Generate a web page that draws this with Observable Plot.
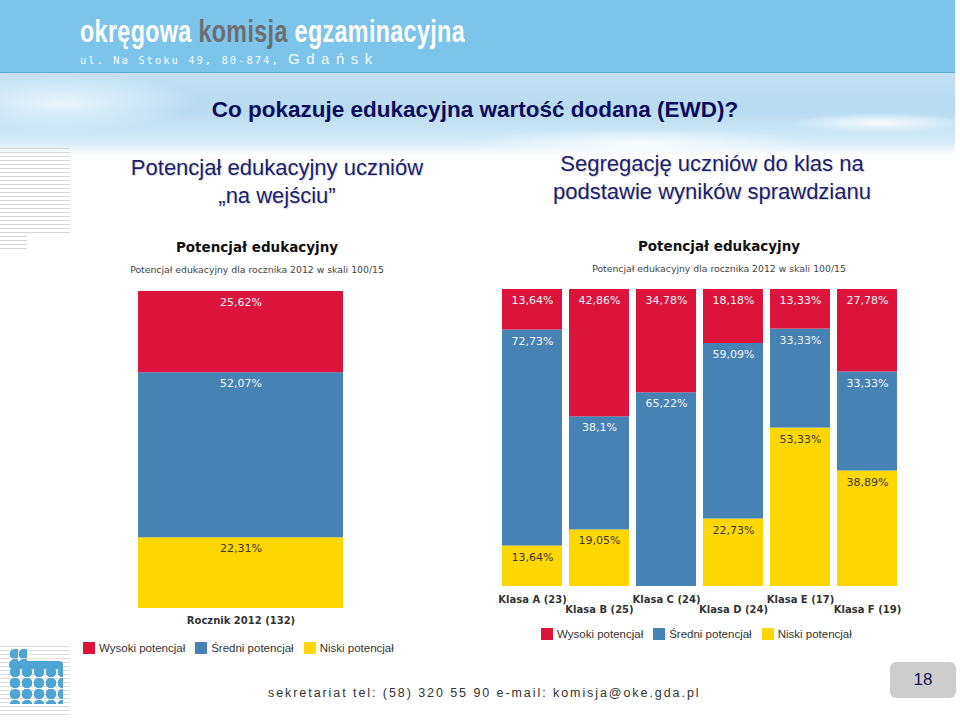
<!DOCTYPE html>
<html><head><meta charset="utf-8">
<script src="https://cdn.jsdelivr.net/npm/d3@7"></script>
<script src="https://cdn.jsdelivr.net/npm/@observablehq/plot@0.6"></script>
<style>
html,body{margin:0;padding:0;background:#fff;}
#slide{position:relative;width:960px;height:720px;overflow:hidden;font-family:"Liberation Sans",Arial,sans-serif;background:#fff;}
.abs{position:absolute;white-space:nowrap;}
#band{left:0;top:0;width:955px;height:72px;background:#7cc4ea;border-bottom:1px solid #5ea9d5;}
#texture{left:0;top:73px;width:955px;height:82px;
 background:
  radial-gradient(ellipse 180px 14px at 640px 70px, rgba(255,255,255,0.85), rgba(255,255,255,0)),
  radial-gradient(ellipse 90px 10px at 880px 50px, rgba(255,255,255,0.9), rgba(255,255,255,0)),
  radial-gradient(ellipse 140px 30px at 60px 30px, rgba(255,255,255,0.7), rgba(255,255,255,0)),
  linear-gradient(180deg,#c3e1f3 0%,#b7dbf0 45%,#d6ebf7 85%,#ffffff 100%);}
#brand{left:80px;top:16px;font-weight:bold;font-size:32px;color:#fff;transform-origin:0 0;line-height:30px;letter-spacing:0.5px;}
#brand .g{color:#6e6e72;}
#addr{left:80px;top:51px;color:#f4faff;line-height:16px;}
#addr .a{font-family:"DejaVu Sans Mono",monospace;font-size:10.5px;letter-spacing:2px;}
#addr .b{font-size:15px;letter-spacing:6.5px;}
#title{left:0;width:950px;text-align:center;top:97px;font-size:22.5px;font-weight:bold;color:#0c0c5a;line-height:26px;}
.sub{font-size:22px;color:#1b1f6e;line-height:28px;text-align:center;text-shadow:1px 1px 1px rgba(0,0,40,0.18);}
#subL{left:97px;width:360px;top:154px;}
#subR{left:512px;width:400px;top:150px;}
.ct{font-family:"DejaVu Sans",Verdana,sans-serif;font-weight:bold;font-size:13.5px;color:#111;text-align:center;line-height:16px;}
.cs{font-family:"DejaVu Sans",Verdana,sans-serif;font-size:9.3px;color:#444;text-align:center;line-height:12px;}
#stripes1{left:0;top:148px;width:70px;height:88px;background:repeating-linear-gradient(180deg,#d8d8d8 0 1px,rgba(255,255,255,0) 1px 4px);}
#stripes2{left:0;top:236px;width:27px;height:14px;background:repeating-linear-gradient(180deg,#d8d8d8 0 1px,rgba(255,255,255,0) 1px 4px);}
#stripes3{left:0;top:646px;width:70px;height:70px;background:repeating-linear-gradient(180deg,#dcdcdc 0 1px,rgba(255,255,255,0) 1px 4px);}
#dots1{left:9px;top:666px;width:54px;height:38px;background:radial-gradient(circle at 6px 6px,#4ea5d4 0 5px,rgba(0,0,0,0) 5.6px);background-size:12px 11px;}
#dots2{left:9px;top:648px;width:18px;height:20px;background:radial-gradient(circle at 6px 6px,#4ea5d4 0 5px,rgba(0,0,0,0) 5.6px);background-size:9px 10px;}
#dots3{left:9px;top:661px;width:54px;height:8px;background:#4ea5d4;border-radius:4px;}
#footer{left:268px;top:685px;font-size:12.5px;color:#333;line-height:16px;}
#page{left:890px;top:662px;width:66px;height:36px;background:#cdcdcd;border-radius:6px;text-align:center;line-height:36px;font-size:17px;color:#141450;}
.lg-swatches{min-height:0 !important;margin:0 !important;font:11.5px "Liberation Sans",Arial,sans-serif !important;color:#333 !important;}
.lg-swatch{margin-right:10px !important;}
.lg-swatch > svg{margin-right:4px !important;}
</style></head><body>
<div id="slide">
 <div id="band" class="abs"></div>
 <div id="texture" class="abs"></div>
 <div id="brand" class="abs">okręgowa <span class="g">komisja</span> egzaminacyjna</div>
 <div id="addr" class="abs"><span class="a">ul. Na Stoku 49, 80-874, </span><span class="b">Gdańsk</span></div>
 <div id="title" class="abs">Co pokazuje edukacyjna wartość dodana (EWD)?</div>
 <div id="subL" class="abs sub">Potencjał edukacyjny uczniów<br>„na wejściu”</div>
 <div id="subR" class="abs sub">Segregację uczniów do klas na<br>podstawie wyników sprawdzianu</div>
 <div id="stripes1" class="abs"></div>
 <div id="stripes2" class="abs"></div>
 <div id="stripes3" class="abs"></div>
 <div id="dots3" class="abs"></div>
 <div id="dots1" class="abs"></div>
 <div id="dots2" class="abs"></div>
 <div class="abs ct" style="left:157px;width:200px;top:239px;">Potencjał edukacyjny</div>
 <div class="abs cs" style="left:107px;width:300px;top:264px;">Potencjał edukacyjny dla rocznika 2012 w skali 100/15</div>
 <div class="abs ct" style="left:619px;width:200px;top:238px;">Potencjał edukacyjny</div>
 <div class="abs cs" style="left:569px;width:300px;top:263px;">Potencjał edukacyjny dla rocznika 2012 w skali 100/15</div>
 <div id="chartL" class="abs" style="left:80px;top:280px;"></div>
 <div id="chartR" class="abs" style="left:480px;top:280px;"></div>
 <div id="legL" class="abs" style="left:83px;top:642px;"></div>
 <div id="legR" class="abs" style="left:541px;top:628px;"></div>
 <div id="footer" class="abs">sekretariat tel: (58) 320 55 90 e-mail: komisja@oke.gda.pl</div>
 <div id="page" class="abs">18</div>
</div>
<script>
// ---- data ----
const seriesNames = ["Wysoki potencjał", "Średni potencjał", "Niski potencjał"];
const seriesColors = ["crimson", "steelblue", "gold"];

const yearCategory = ["Rocznik 2012 (132)"];
const yearWysoki = [25.62];
const yearSredni = [52.07];
const yearNiski = [22.31];

const classes = ["Klasa A (23)", "Klasa B (25)", "Klasa C (24)", "Klasa D (24)", "Klasa E (17)", "Klasa F (19)"];
const classWysoki = [13.64, 42.86, 34.78, 18.18, 13.33, 27.78];
const classSredni = [72.73, 38.1, 65.22, 59.09, 33.33, 33.33];
const classNiski = [13.64, 19.05, 0, 22.73, 53.33, 38.89];

const ticksRow1 = ["Klasa A (23)", "Klasa C (24)", "Klasa E (17)"];
const ticksRow2 = ["Klasa B (25)", "Klasa D (24)", "Klasa F (19)"];

// tidy rows, bottom-to-top stacking order: Niski, Średni, Wysoki
function tidy(cats, w, s, n) {
  const rows = [];
  cats.forEach((c, i) => {
    rows.push({cat: c, series: seriesNames[2], value: n[i]});
    rows.push({cat: c, series: seriesNames[1], value: s[i]});
    rows.push({cat: c, series: seriesNames[0], value: w[i]});
  });
  return rows;
}
const fmt = v => String(v).replace(".", ",") + "%";

function stackedChart(rows, cats, opts) {
  const st = {x: "cat", y: "value", z: "series", offset: "normalize"};
  const lightLabel = d => (d.series !== seriesNames[2] && d.value > 0) ? fmt(d.value) : null;
  const darkLabel = d => (d.series === seriesNames[2] && d.value > 0) ? fmt(d.value) : null;
  return Plot.plot({
    width: opts.width, height: opts.height,
    marginTop: opts.mt, marginBottom: opts.mb, marginLeft: opts.ml, marginRight: opts.mr,
    style: {fontFamily: "DejaVu Sans, Verdana, sans-serif", color: "#333", background: "transparent", overflow: "visible"},
    x: {type: "band", domain: cats, paddingInner: opts.pad, paddingOuter: 0, axis: null},
    y: {domain: [0, 1], axis: null},
    color: {domain: seriesNames, range: seriesColors},
    marks: [
      Plot.barY(rows, Plot.stackY({...st, fill: "series"})),
      Plot.text(rows, Plot.stackY2({...st, text: lightLabel, dy: 11, fill: "#f4f4f4", fontSize: 11})),
      Plot.text(rows, Plot.stackY2({...st, text: darkLabel, dy: 11, fill: "#3a3a3a", fontSize: 11})),
      ...opts.axes
    ]
  });
}

const axisStyle = {tickSize: 0, fontSize: 10, fontWeight: "bold", fill: "#333", label: null};

document.getElementById("chartL").append(stackedChart(
  tidy(yearCategory, yearWysoki, yearSredni, yearNiski), yearCategory,
  {width: 330, height: 358, mt: 11, mb: 30, ml: 58, mr: 67, pad: 0,
   axes: [Plot.axisX({...axisStyle, tickPadding: 8})]}
));

document.getElementById("chartR").append(stackedChart(
  tidy(classes, classWysoki, classSredni, classNiski), classes,
  {width: 440, height: 346, mt: 9, mb: 40, ml: 21, mr: 22, pad: 0.11,
   axes: [Plot.axisX(ticksRow1, {...axisStyle, tickPadding: 9}),
          Plot.axisX(ticksRow2, {...axisStyle, tickPadding: 19})]}
));

const legendOpts = {color: {domain: seriesNames, range: seriesColors}, legend: "swatches", swatchSize: 12, className: "lg"};
document.getElementById("legL").append(Plot.legend(legendOpts));
document.getElementById("legR").append(Plot.legend(legendOpts));

// fit header text widths
const brand = document.getElementById("brand");
brand.style.transform = `scaleX(${385 / brand.scrollWidth})`;
const foot = document.getElementById("footer");
const n = foot.textContent.length;
foot.style.letterSpacing = ((432 - foot.scrollWidth) / n) + "px";
</script>
</body></html>
